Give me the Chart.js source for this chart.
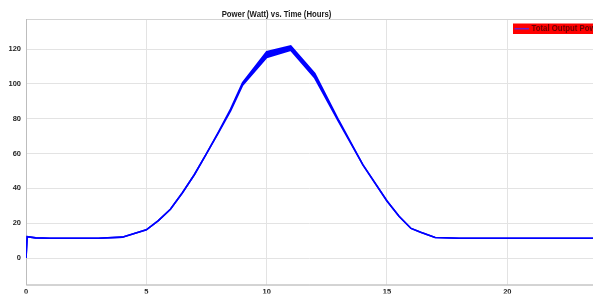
<!DOCTYPE html>
<html>
<head>
<meta charset="utf-8">
<script src="https://cdn.jsdelivr.net/npm/chart.js@4/dist/chart.umd.min.js"></script>
<style>
  html, body { margin: 0; padding: 0; background: #fff; overflow: hidden; }
  #wrap { width: 593px; height: 294px; }
</style>
</head>
<body>
<div id="wrap"><canvas id="canvas" width="593" height="294"></canvas></div>
<script>
// data
var chartTitle = "Power (Watt) vs. Time (Hours)";
var seriesName = "Total Output Power";
var hours      = [0, 0.05, 0.4, 1, 2, 3, 4, 5, 5.5, 6, 6.5, 7, 7.5, 8, 8.5, 9, 10, 11, 12, 13, 14, 15, 15.5, 16, 16.4, 17, 18, 20, 22, 24];
var powerUpper = [0, 12.3, 11.6, 11.4, 11.4, 11.4, 12.0, 16.2, 21.5, 28, 37.5, 48, 60, 72.5, 85.5, 100.8, 118.5, 121.8, 106, 79, 53.5, 32.8, 24, 17, 14.8, 11.8, 11.4, 11.4, 11.4, 11.4];
var powerLower = [0, 12.3, 11.6, 11.4, 11.4, 11.4, 12.0, 16.2, 21.5, 28, 37.5, 48, 60, 72, 84.5, 99.3, 115.2, 119.3, 103.4, 78, 53.5, 32.8, 24, 17, 14.8, 11.8, 11.4, 11.4, 11.4, 11.4];
var xTicks = [0, 5, 10, 15, 20];
var yTicks = [0, 20, 40, 60, 80, 100, 120];

function points(ys) {
  return hours.map(function (h, i) { return { x: h, y: ys[i] }; });
}

var BLUE = "#0000ff";

// plot box + title + legend, MATLAB style
var decorations = {
  id: "decorations",
  beforeDatasetsDraw: function (chart) {
    var a = chart.chartArea, ctx = chart.ctx;
    ctx.save();
    ctx.strokeStyle = "#d4d4d4";
    ctx.lineWidth = 1;
    ctx.strokeRect(a.left + 0.5, a.top + 0.5, a.right - a.left + 5, a.bottom - a.top);
    ctx.strokeStyle = "#bdbdbd";
    ctx.beginPath();
    ctx.moveTo(a.left + 0.5, a.top);
    ctx.lineTo(a.left + 0.5, a.bottom + 0.5);
    ctx.lineTo(a.right, a.bottom + 0.5);
    ctx.stroke();
    ctx.restore();
  },
  afterDraw: function (chart) {
    var ctx = chart.ctx;
    ctx.save();
    // title
    ctx.fillStyle = "#1a1a1a";
    ctx.font = "bold 9px 'Liberation Sans', Arial, sans-serif";
    ctx.textAlign = "center";
    ctx.textBaseline = "middle";
    ctx.translate(276.5, 15);
    ctx.scale(0.86, 1);
    ctx.fillText(chartTitle, 0, 0);
    ctx.restore();

    // legend
    ctx.save();
    ctx.fillStyle = "#ff0000";
    ctx.fillRect(513, 23.5, 100, 10.5);
    ctx.strokeStyle = "#6a1fd0";
    ctx.lineWidth = 1.5;
    ctx.beginPath();
    ctx.moveTo(514.5, 28.7);
    ctx.lineTo(529, 28.7);
    ctx.stroke();
    ctx.fillStyle = "#6a0000";
    ctx.font = "bold 8.5px 'Liberation Sans', Arial, sans-serif";
    ctx.textBaseline = "middle";
    ctx.translate(531.5, 29);
    ctx.scale(0.92, 1);
    ctx.fillText(seriesName, 0, 0);
    ctx.restore();
  }
};

var ctx = document.getElementById("canvas").getContext("2d");
var chart = new Chart(ctx, {
  type: "line",
  data: {
    datasets: [{
      label: seriesName,
      data: points(powerUpper),
      borderColor: BLUE,
      backgroundColor: BLUE,
      borderWidth: 1.6,
      pointRadius: 0,
      tension: 0,
      fill: "+1"
    }, {
      label: "lower",
      data: points(powerLower),
      borderColor: BLUE,
      borderWidth: 1.6,
      pointRadius: 0,
      tension: 0,
      fill: false
    }]
  },
  options: {
    responsive: false,
    animation: false,
    layout: { padding: { top: 19, left: 0, right: 0, bottom: 0 } },
    plugins: {
      legend: { display: false },
      title: { display: false },
      tooltip: { enabled: false }
    },
    scales: {
      x: {
        type: "linear",
        min: 0,
        max: 23.56,
        afterFit: function (s) { s.height = 9; },
        afterBuildTicks: function (s) {
          s.ticks = xTicks.map(function (v) { return { value: v }; });
        },
        grid: { color: "#e3e3e3", drawTicks: false },
        border: { display: false },
        ticks: {
          padding: 3,
          color: "#262626",
          font: { family: "'Liberation Sans', Arial, sans-serif", size: 7.5, weight: "bold" },
          maxRotation: 0
        }
      },
      y: {
        min: -15.2,
        max: 137.3,
        afterFit: function (s) { s.width = 26; },
        afterBuildTicks: function (s) {
          s.ticks = yTicks.map(function (v) { return { value: v }; });
        },
        grid: { color: "#e3e3e3", drawTicks: false },
        border: { display: false },
        ticks: {
          padding: 5,
          color: "#262626",
          font: { family: "'Liberation Sans', Arial, sans-serif", size: 7.5, weight: "bold" }
        }
      }
    }
  },
  plugins: [decorations]
});
</script>
</body>
</html>
